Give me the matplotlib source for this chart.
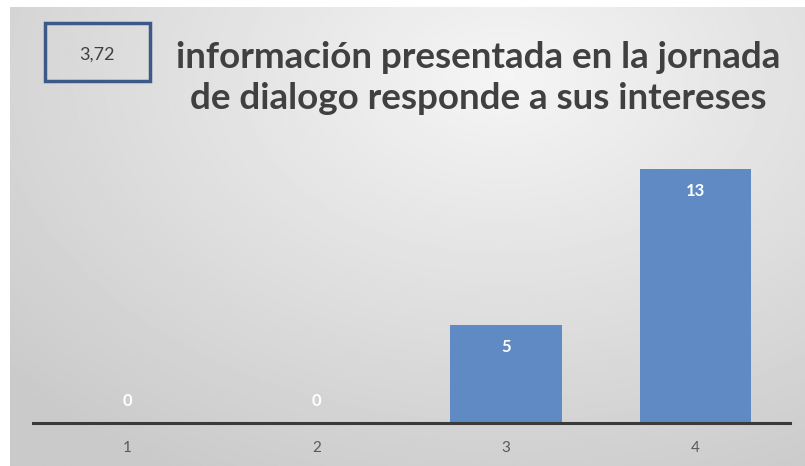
import matplotlib.pyplot as plt
import numpy as np
from matplotlib.patches import Rectangle

plt.rcParams['font.family'] = ['Lato', 'DejaVu Sans']

# data
categories = ['1', '2', '3', '4']
counts = [0, 0, 5, 13]
average = '3,72'
title = 'información presentada en la jornada\nde dialogo responde a sus intereses'

bar_color = '#5f8ac3'
text_color = '#404040'

W, H = 805, 466
fig = plt.figure(figsize=(W / 100, H / 100), dpi=100)
fig.patch.set_facecolor('white')

# gradient background
bg = fig.add_axes([10 / W, 0, 1 - 10 / W, 1 - 7 / H])
yy, xx = np.mgrid[0:1:300j, 0:1:500j]
r = np.sqrt(((xx - 0.62) / 0.85) ** 2 + ((yy - 0.15) / 1.0) ** 2)
shade = 0.96 - 0.17 * np.clip(r, 0, 1)
bg.imshow(shade, cmap='gray', vmin=0, vmax=1, aspect='auto', extent=[0, 1, 1, 0])
bg.set_axis_off()

# main axes
ax = fig.add_axes([33 / W, 43 / H, (790 - 33) / W, 274 / H])
ax.patch.set_alpha(0)
x = np.arange(len(categories))
bars = ax.bar(x, counts, width=0.59, color=bar_color, zorder=2)
ax.set_xlim(-0.5, 3.5)
ax.set_ylim(0, 14)
ax.set_xticks(x)
ax.set_xticklabels(categories, fontsize=11, color='#595959')
ax.tick_params(axis='x', length=0, pad=13)
ax.set_yticks([])
for s in ['top', 'right', 'left']:
    ax.spines[s].set_visible(False)
ax.spines['bottom'].set_color('#3a3a3a')
ax.spines['bottom'].set_linewidth(2.2)
ax.spines['bottom'].set_zorder(3)

for xi, v in zip(x, counts):
    off = -16 if v > 0 else 16
    ax.annotate(str(v), (xi, v), xytext=(0, off), textcoords='offset points',
                ha='center', va='center', color='white', fontsize=12,
                fontweight='bold')

# average box
fig.patches.append(Rectangle((45 / W, 1 - 81 / H), 105 / W, 58 / H,
                             transform=fig.transFigure, fill=False,
                             edgecolor='#3b5a8a', linewidth=2.5))
fig.text(97 / W, 1 - 53 / H, average, ha='center', va='center_baseline',
         fontsize=13, color=text_color)

fig.text(478 / W, 1 - 78 / H, title, ha='center', va='center',
         fontsize=26.5, fontweight='bold', color=text_color, linespacing=1.3)

fig.savefig('out.png', dpi=100)
